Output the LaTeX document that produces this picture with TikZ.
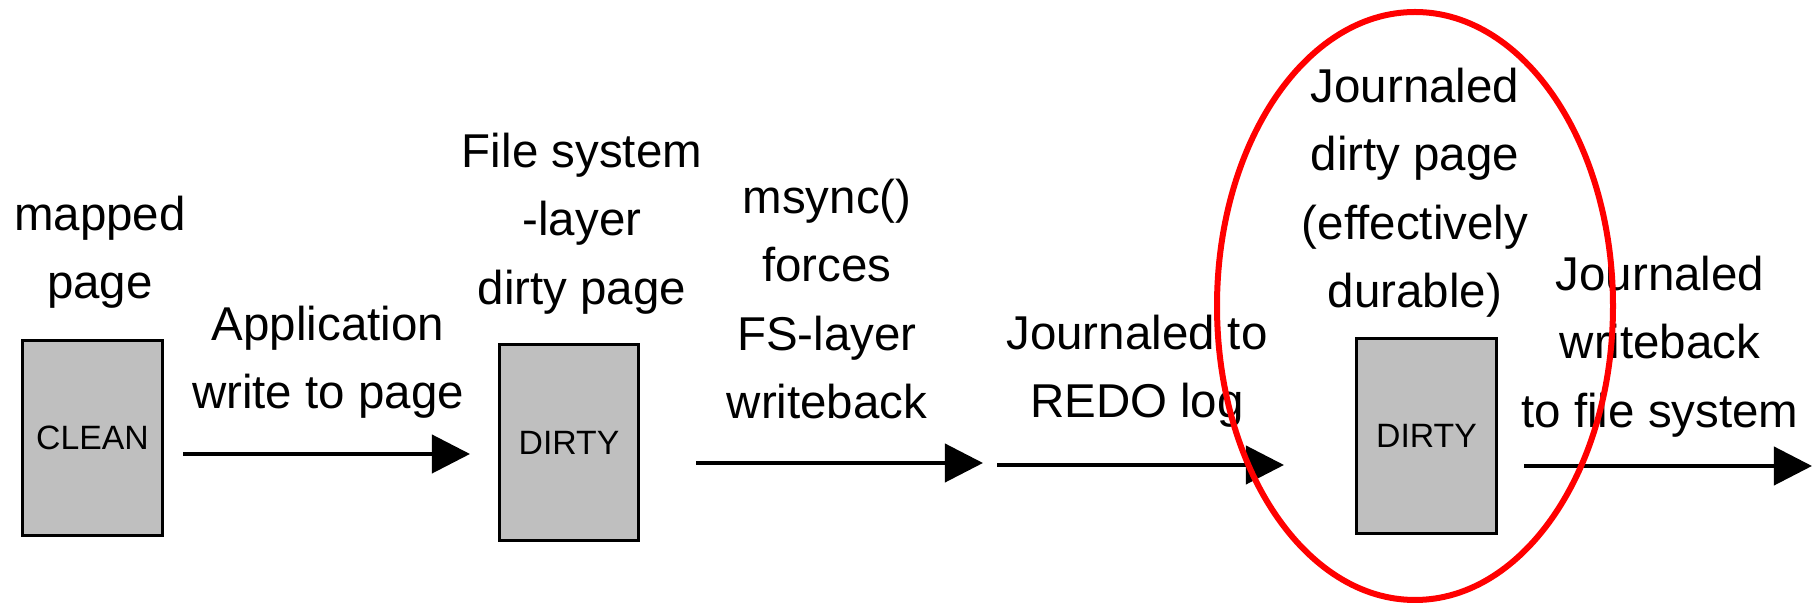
\documentclass[tikz,border=0pt]{standalone}
\usepackage{fontspec}
\setmainfont{Liberation Sans}
\usetikzlibrary{arrows.meta}

\definecolor{pagegray}{RGB}{191,191,191}
\tikzset{
	pagebox/.style={draw, line width=0.03cm, fill=pagegray, minimum width=1.39cm, minimum height=1.95cm, inner sep=0pt, font=\fontsize{9.6pt}{11pt}\selectfont},
	flow/.style={line width=0.04cm, -{Triangle[length=0.38cm,width=0.38cm]}},
	caption/.style={anchor=north, align=center, inner sep=0pt, font=\fontsize{13.5pt}{19.4pt}\selectfont},
}

\begin{document}
\begin{tikzpicture}[x=0.01cm, y=-0.01cm]
			\useasboundingbox (0,0) rectangle (1820,607);

			% pages
			\node[pagebox] (clean) at (92.5,438) {CLEAN};
			\node[pagebox] (fsdirty) at (569,442.5) {DIRTY};
			\node[pagebox] (jdirty) at (1426.5,436) {DIRTY};

			% page labels
			\node[caption] (cleanlbl) at (100,195.5) {mapped\\page};
			\node[caption] (fsdirtylbl) at (582,132.5) {File system\\-layer\\dirty page};
			\node[caption] (jdirtylbl) at (1415,67.5) {Journaled\\dirty page\\(effectively\\durable)};

			% arrow ends
			\coordinate (w1) at (183,454);  \coordinate (w2) at (470,454);
			\coordinate (s1) at (696,463);  \coordinate (s2) at (983,463);
			\coordinate (r1) at (997,465);  \coordinate (r2) at (1284,465);
			\coordinate (b1) at (1524,466); \coordinate (b2) at (1812,466);

			% arrows
			\draw[flow] (w1) -- (w2);
			\draw[flow] (s1) -- (s2);
			\draw[flow] (r1) -- (r2);
			\draw[flow] (b1) -- (b2);

			% arrow labels
			\node[caption] (writelbl) at (328,305.5) {Application\\write to page};
			\node[caption] (msynclbl) at (827,178.5) {msync()\\forces\\FS-layer\\writeback};
			\node[caption] (redolbl) at (1137,314.5) {Journaled to\\REDO log};
			\node[caption] (wblbl) at (1660,255.5) {Journaled\\writeback\\to file system};

			% durable mark
			\draw[red, line width=0.06cm] (1415,306) ellipse [x radius=198, y radius=294];
\end{tikzpicture}
\end{document}
